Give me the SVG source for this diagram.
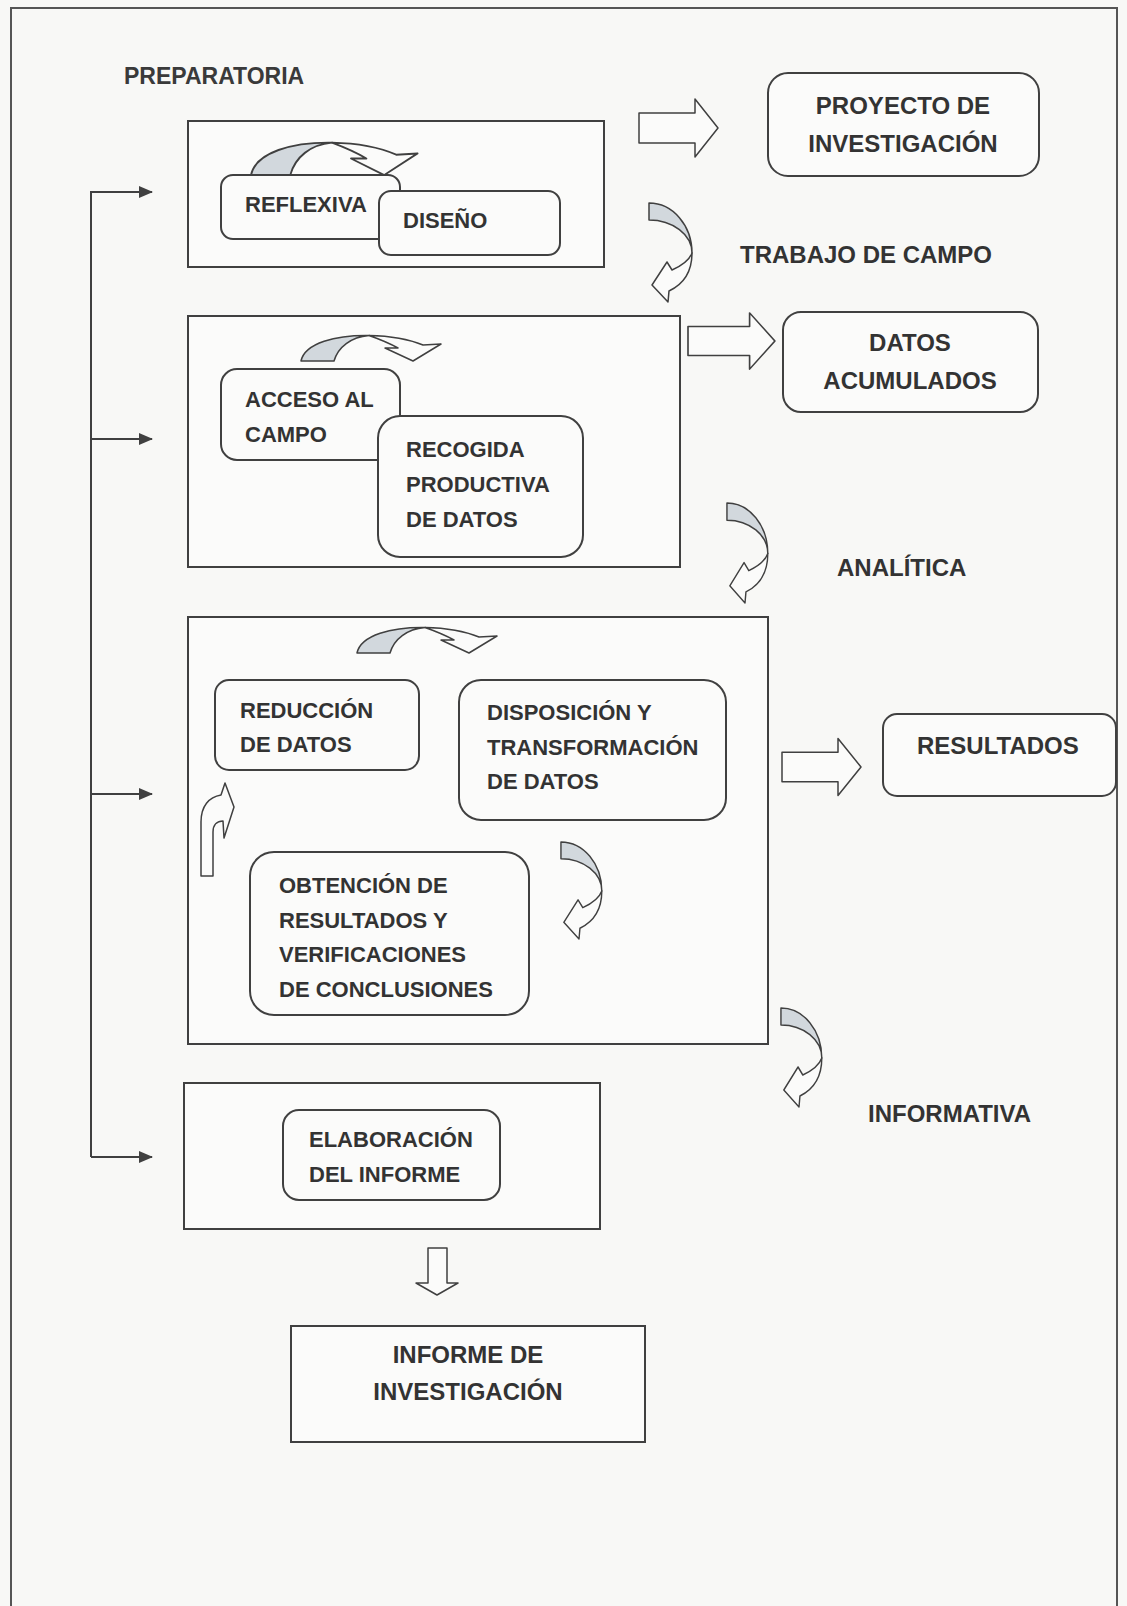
<svg xmlns="http://www.w3.org/2000/svg" xmlns:xlink="http://www.w3.org/1999/xlink" width="1127" height="1606" viewBox="0 0 1127 1606">
<style>
.bg{fill:#f8f8f6}
.frame{fill:#fbfbfa;stroke:#404040;stroke-width:2}
.box{fill:#fbfbfa;stroke:#404040;stroke-width:2}
.lbl{font-family:"Liberation Sans",Arial,sans-serif;font-weight:bold;font-size:22px;fill:#333}
.big{font-size:24px}
.prep{font-size:23px;fill:#3a3a3a}
.mid{text-anchor:middle}
.shade{fill:#d2d8dd;stroke:#404040;stroke-width:1.5;stroke-linejoin:round}
.white{fill:#fbfbfa;stroke:#404040;stroke-width:1.5;stroke-linejoin:round}
.conn{fill:none;stroke:#404040;stroke-width:2}
</style>
<defs>
<marker id="ah" viewBox="0 0 14 12" refX="13" refY="6" markerWidth="14" markerHeight="12" markerUnits="userSpaceOnUse" orient="auto">
<path d="M0,0 L14,6 L0,12 Z" fill="#404040"/>
</marker>
<g id="curveL">
<path class="shade" d="M1,0 A43,50 0 0 1 44,50 A43,33 0 0 0 1,17 Z"/>
<path class="white" d="M44,50 C44,65 38,80 21,88 L20,99 L4,82 L19,59 L24,67 C33,63 41,58 44,50 Z"/>
</g>
<g id="arcD">
<path class="shade" d="M0,26 C4,8 35,0 68,0.5 C50,2 37,12 33,26 Z"/>
<path class="white" d="M68,0.5 C92,1 110,5 122,10 L140,9 L112,26 L84,13 L97,13 C88,8 78,4 68,0.5 Z"/>
</g>
<path id="blockR" d="M0,-15 L56,-15 L56,-29 L79,0 L56,29 L56,15 L0,15 Z"/>
</defs>

<rect class="bg" x="0" y="0" width="1127" height="1606"/>
<rect x="11" y="8" width="1106" height="1620" fill="none" stroke="#555" stroke-width="2"/>

<g id="label-preparatoria"><text class="lbl prep" x="124" y="84">PREPARATORIA</text></g>
<g id="label-trabajo"><text class="lbl big" x="740" y="263">TRABAJO DE CAMPO</text></g>
<g id="label-analitica"><text class="lbl big" x="837" y="576">ANALÍTICA</text></g>
<g id="label-informativa"><text class="lbl big" x="868" y="1122">INFORMATIVA</text></g>

<g id="frame-preparatoria"><rect class="frame" x="188" y="121" width="416" height="146"/></g>
<g id="frame-campo"><rect class="frame" x="188" y="316" width="492" height="251"/></g>
<g id="frame-analitica"><rect class="frame" x="188" y="617" width="580" height="427"/></g>
<g id="frame-informativa"><rect class="frame" x="184" y="1083" width="416" height="146"/></g>

<g id="connectors">
<path class="conn" d="M91,1157 L91,192 L152,192" marker-end="url(#ah)"/>
<path class="conn" d="M91,439 L152,439" marker-end="url(#ah)"/>
<path class="conn" d="M91,794 L152,794" marker-end="url(#ah)"/>
<path class="conn" d="M91,1157 L152,1157" marker-end="url(#ah)"/>
<use xlink:href="#blockR" href="#blockR" class="white" transform="translate(639,128)"/>
<use xlink:href="#blockR" href="#blockR" class="white" transform="translate(688,341) scale(1.1,0.97)"/>
<use xlink:href="#blockR" href="#blockR" class="white" transform="translate(782,767) scale(1.0,0.98)"/>
<path class="white" d="M428,1248 L447,1248 L447,1283 L458,1283 L437,1295 L416,1283 L428,1283 Z"/>
<use xlink:href="#curveL" href="#curveL" transform="translate(648,203)"/>
<use xlink:href="#curveL" href="#curveL" transform="translate(726,503) scale(0.95,1.01)"/>
<use xlink:href="#curveL" href="#curveL" transform="translate(560,842) scale(0.95,0.98)"/>
<use xlink:href="#curveL" href="#curveL" transform="translate(780,1008) scale(0.95,1.0)"/>
<path class="white" d="M201,876 L201,822 C201,806 209,797 221,795 L225,783 L234,807 L224,838 L223,821 C217,821 213,825 213,832 L213,876 Z"/>
</g>

<g id="node-reflexiva"><rect class="box" x="221" y="175" width="179" height="64" rx="12"/><text class="lbl" x="245" y="212">REFLEXIVA</text></g>
<g id="node-diseno"><rect class="box" x="379" y="191" width="181" height="64" rx="12"/><text class="lbl" x="403" y="228">DISEÑO</text></g>
<use xlink:href="#arcD" href="#arcD" transform="translate(251,142) scale(1.19,1.27)"/>

<g id="node-proyecto"><rect class="box" x="768" y="73" width="271" height="103" rx="20"/><text class="lbl big mid" x="903" y="114">PROYECTO DE</text><text class="lbl big mid" x="903" y="152">INVESTIGACIÓN</text></g>

<g id="node-acceso"><rect class="box" x="221" y="369" width="179" height="91" rx="16"/><text class="lbl" x="245" y="407">ACCESO AL</text><text class="lbl" x="245" y="442">CAMPO</text></g>
<g id="node-recogida"><rect class="box" x="378" y="416" width="205" height="141" rx="22"/><text class="lbl" x="406" y="457">RECOGIDA</text><text class="lbl" x="406" y="492">PRODUCTIVA</text><text class="lbl" x="406" y="527">DE DATOS</text></g>
<use xlink:href="#arcD" href="#arcD" transform="translate(301,335)"/>

<g id="node-datos"><rect class="box" x="783" y="312" width="255" height="100" rx="18"/><text class="lbl big mid" x="910" y="351">DATOS</text><text class="lbl big mid" x="910" y="389">ACUMULADOS</text></g>

<g id="node-reduccion"><rect class="box" x="215" y="680" width="204" height="90" rx="14"/><text class="lbl" x="240" y="718">REDUCCIÓN</text><text class="lbl" x="240" y="752">DE DATOS</text></g>
<g id="node-disposicion"><rect class="box" x="459" y="680" width="267" height="140" rx="22"/><text class="lbl" x="487" y="720">DISPOSICIÓN Y</text><text class="lbl" x="487" y="755">TRANSFORMACIÓN</text><text class="lbl" x="487" y="789">DE DATOS</text></g>
<g id="node-obtencion"><rect class="box" x="250" y="852" width="279" height="163" rx="24"/><text class="lbl" x="279" y="893">OBTENCIÓN DE</text><text class="lbl" x="279" y="928">RESULTADOS Y</text><text class="lbl" x="279" y="962">VERIFICACIONES</text><text class="lbl" x="279" y="997">DE CONCLUSIONES</text></g>
<use xlink:href="#arcD" href="#arcD" transform="translate(357,627)"/>

<g id="node-resultados"><rect class="box" x="883" y="714" width="233" height="82" rx="14"/><text class="lbl big" x="917" y="754">RESULTADOS</text></g>

<g id="node-elaboracion"><rect class="box" x="283" y="1110" width="217" height="90" rx="16"/><text class="lbl" x="309" y="1147">ELABORACIÓN</text><text class="lbl" x="309" y="1182">DEL INFORME</text></g>

<g id="node-informe"><rect class="box" x="291" y="1326" width="354" height="116"/><text class="lbl big mid" x="468" y="1363">INFORME DE</text><text class="lbl big mid" x="468" y="1400">INVESTIGACIÓN</text></g>
</svg>
